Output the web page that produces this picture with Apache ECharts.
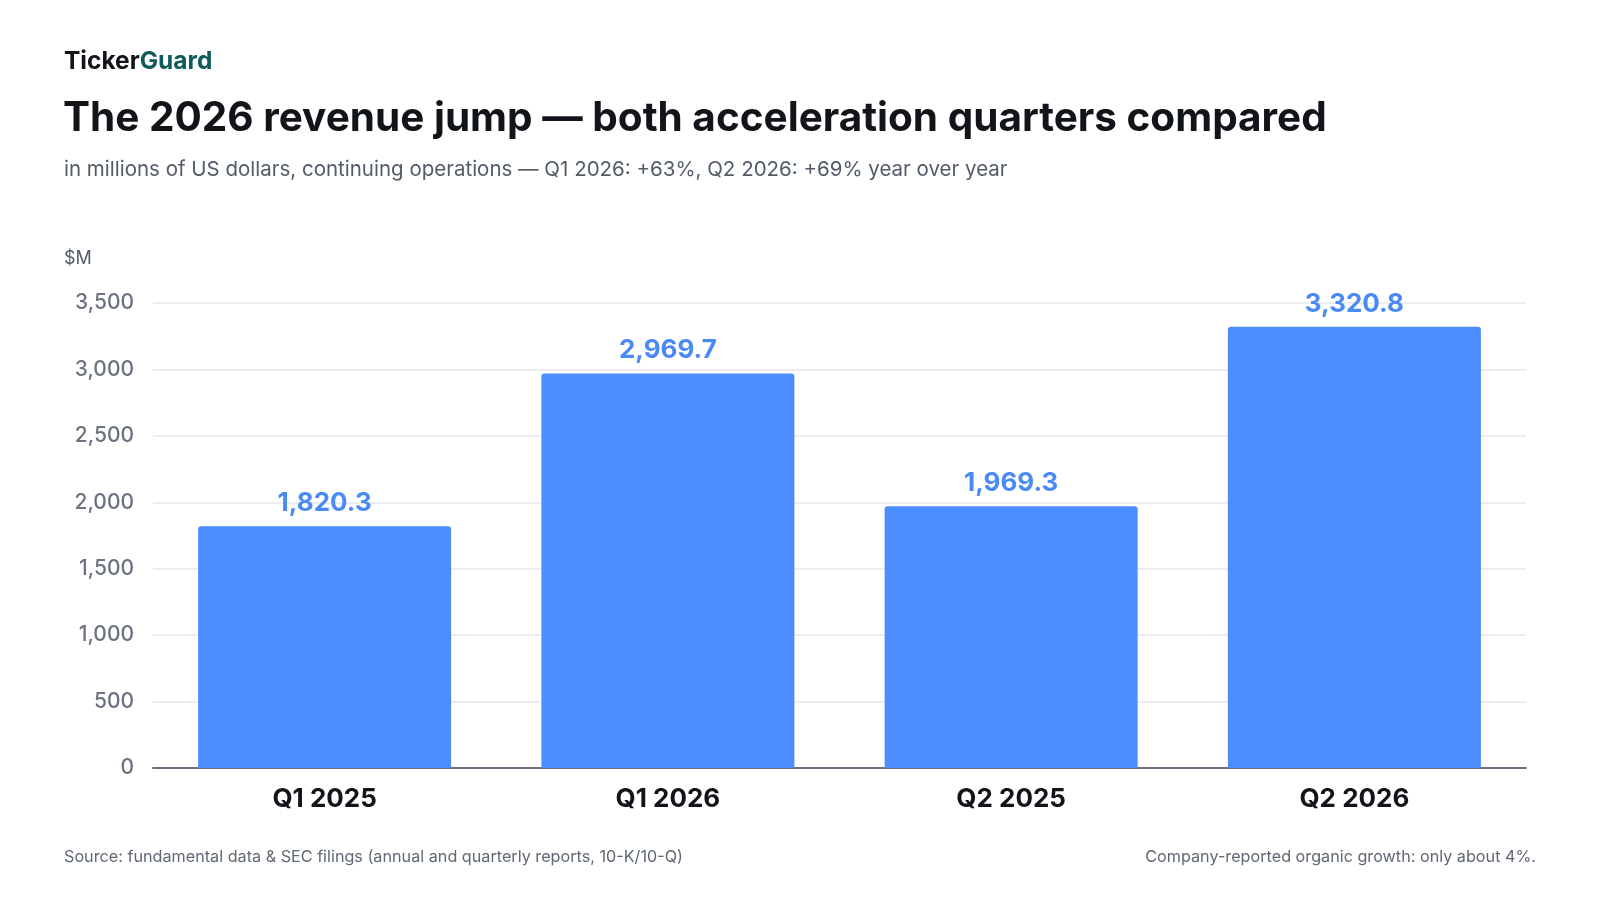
<html>
  <head>
    <title>Revenue jump</title>
    <script src="https://cdn.jsdelivr.net/npm/echarts@6/dist/echarts.min.js"></script>
    <style>
      html, body { margin: 0; padding: 0; background: #ffffff; }
      #chart { width: 1600px; height: 900px; }
    </style>
  </head>
  <body>
    <div id="chart"></div>
    <script>
      // data
      const quarters = ['Q1 2025', 'Q1 2026', 'Q2 2025', 'Q2 2026']
      const revenue = [1820.3, 2969.7, 1969.3, 3320.8]

      const font = 'Inter, "Noto Sans", sans-serif'
      const blue = '#4b8cff'

      const fmt = v => v.toLocaleString('en-US', { minimumFractionDigits: 1, maximumFractionDigits: 1 })

      // text helper, y is the vertical centre of the line
      const txt = (x, y, text, size, color, extra) => ({
        type: 'text', x: x, y: y,
        style: Object.assign({
          text: text, fontFamily: font, fontSize: size, fill: color,
          verticalAlign: 'middle'
        }, extra || {})
      })

      const chart = echarts.init(document.getElementById('chart'))
      chart.setOption({
        backgroundColor: '#ffffff',
        animation: false,
        textStyle: { fontFamily: font },
        graphic: [
          txt(64, 62, '{a|Ticker}{b|Guard}', 24.5, '#111418', {
            rich: {
              a: { fontFamily: font, fontSize: 24.5, fontWeight: 'bold', fill: '#111418' },
              b: { fontFamily: font, fontSize: 24.5, fontWeight: 'bold', fill: '#0f5a5a' }
            }
          }),
          txt(63, 119, 'The 2026 revenue jump — both acceleration quarters compared', 40.5, '#111418', { fontWeight: 'bold' }),
          txt(64, 170, 'in millions of US dollars, continuing operations — Q1 2026: +63%, Q2 2026: +69% year over year', 20.5, '#525c68'),
          txt(64, 259, '$M', 18, '#525c68'),
          txt(64, 857, 'Source: fundamental data & SEC filings (annual and quarterly reports, 10-K/10-Q)', 16.2, '#5f6873'),
          txt(1536, 857, 'Company-reported organic growth: only about 4%.', 16.2, '#5f6873', { align: 'right' })
        ],
        grid: { left: 153, right: 74, top: 303, bottom: 132 },
        xAxis: {
          type: 'category',
          data: quarters,
          axisLine: { lineStyle: { color: '#6b7280', width: 2 } },
          axisTick: { show: false },
          axisLabel: {
            margin: 18, fontSize: 26, fontWeight: 'bold', color: '#111418', fontFamily: font
          }
        },
        yAxis: {
          type: 'value',
          min: 0, max: 3500, interval: 500,
          axisLine: { show: false },
          axisTick: { show: false },
          splitLine: { lineStyle: { color: '#e5e7eb', width: 1.5 } },
          axisLabel: {
            margin: 19, fontSize: 21, fontWeight: 500, color: '#6b7280', fontFamily: font,
            formatter: v => v.toLocaleString('en-US')
          }
        },
        series: [
          {
            type: 'bar',
            data: revenue,
            barWidth: 253,
            itemStyle: { color: blue, borderRadius: [3, 3, 0, 0] },
            label: {
              show: true, position: 'top', distance: 10,
              fontSize: 26, fontWeight: 'bold', color: '#4a8af5', fontFamily: font,
              formatter: p => fmt(p.value)
            }
          }
        ]
      })
    </script>
  </body>
</html>
